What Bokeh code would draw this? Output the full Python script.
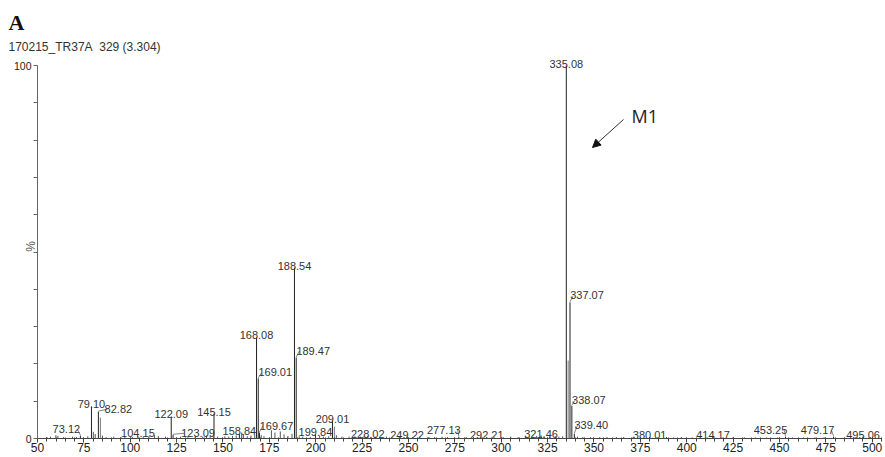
import math
from bokeh.plotting import figure
from bokeh.models import (Range1d, FixedTicker, Label, Arrow, NormalHead,
                          LinearAxis, Title)
from bokeh.core.properties import value
from bokeh.embed import file_html
from bokeh.resources import INLINE

# ---- data ----
peak_mz = [73.12, 79.10, 82.82, 104.15, 122.09, 123.09, 145.15, 158.84,
           168.08, 169.01, 169.67, 188.54, 189.47, 199.84, 209.01, 228.02,
           249.22, 277.13, 292.21, 321.46, 335.08, 337.07, 338.07, 339.40,
           380.01, 414.17, 453.25, 479.17, 495.06]
peak_int = [0.8, 8.6, 7.2, 0.6, 5.9, 1.0, 6.7, 1.2,
            27.1, 16.1, 1.6, 45.8, 21.7, 1.0, 4.8, 0.6,
            0.5, 0.5, 0.4, 0.8, 100.0, 36.5, 8.8, 1.3,
            0.4, 0.4, 0.5, 0.5, 0.5]
# label placement relative to peak top, in pixels (dx right, dy up)
label_dx = [-14, 0, 20, 0, 0, 25, 0, 0,
            0, 17, 17, 0, 17, 0, 0, 0,
            0, -15, 0, 0, 0, 17, 17, 17,
            0, 0, -15, -16, 0]
label_dy = [7, 2, 3, 3, 2, 2, 2, 3,
            2, 6, 7, 2, 7, 3, 2, 2,
            2, 7, 2, 2, 2, 7, 6, 9,
            2, 2, 7, 7, 2]

# unlabelled peaks
other_mz = [336.07, 83.90, 210.02]
other_int = [20.9, 5.6, 3.2]

noise_mz = [55.1, 57.0, 59.9, 61.0, 64.1, 68.9, 71.0, 77.1, 80.1, 81.1, 85.0,
            87.0, 91.1, 95.0, 97.1, 101.1, 107.0, 110.1, 113.1, 115.1, 119.0,
            127.1, 131.1, 135.0, 139.1, 141.1, 143.1, 147.1, 151.0, 153.1,
            155.1, 157.1, 160.1, 161.0, 163.1, 165.1, 167.1, 170.6, 172.1,
            176.1, 178.0, 180.9, 182.9, 185.0, 187.2, 191.1, 193.0, 197.1,
            202.1, 204.1, 207.0, 211.1, 214.1, 218.0, 221.1, 224.1, 226.0,
            232.1, 235.0, 238.1, 241.1, 245.0, 252.1, 256.1, 261.0, 264.1,
            268.1, 271.0, 281.1, 285.0, 289.1, 296.1, 301.0, 305.1, 309.1,
            313.0, 317.1, 319.1, 323.1, 326.0, 329.1, 331.1, 333.1, 341.1,
            344.0, 348.1, 353.1, 357.0, 362.1, 366.0, 371.1, 375.1, 384.0,
            389.1, 393.0, 397.1, 403.0, 407.1, 411.0, 419.1, 425.0, 431.1,
            437.0, 443.1, 449.0, 457.1, 463.0, 469.1, 474.0, 485.1, 491.0,
            499.1]
noise_int = [0.4, 0.5, 0.9, 0.7, 0.4, 0.5, 0.4, 0.6, 1.8, 1.2, 0.8,
             0.4, 0.5, 0.4, 0.5, 0.4, 0.5, 0.6, 0.9, 0.7, 0.5,
             0.5, 0.6, 0.5, 0.5, 0.8, 0.6, 0.5, 0.6, 0.5,
             0.7, 0.8, 1.6, 1.2, 0.6, 0.8, 1.0, 0.9, 0.6,
             2.2, 1.6, 1.9, 1.1, 0.7, 1.3, 0.6, 0.5, 0.4,
             0.8, 0.5, 0.6, 0.9, 0.5, 0.5, 0.6, 0.5, 0.6,
             0.5, 0.4, 0.5, 0.4, 0.4, 0.4, 0.5, 0.4, 0.4,
             0.5, 0.4, 0.4, 0.4, 0.5, 0.4, 0.4, 0.5, 0.4,
             0.5, 0.5, 0.7, 0.6, 0.5, 0.6, 0.5, 0.6, 0.5,
             0.4, 0.4, 0.4, 0.4, 0.4, 0.4, 0.4, 0.4, 0.4,
             0.4, 0.3, 0.4, 0.3, 0.3, 0.3, 0.3, 0.4, 0.3,
             0.3, 0.3, 0.3, 0.3, 0.3, 0.3, 0.3, 0.3, 0.3,
             0.4]

x_ticks = list(range(50, 501, 25))
y_ticks = list(range(0, 101, 10))

title_text = "A"
subtitle_text = "170215_TR37A\u00a0 329 (3.304)"
y_label = "%"
annot_text = "M1"

# ---- layout ----
X0, X1 = 50, 505
FW, FH = 844, 384
PX_PER_PCT = 3.73
Y1 = FH / PX_PER_PCT
px_x = FW / (X1 - X0)
px_y = FH / Y1
FS = 11  # label font size

p = figure(frame_width=FW, frame_height=FH, x_range=Range1d(X0, X1),
           y_range=Range1d(0, Y1), output_backend="svg", toolbar_location=None,
           min_border_left=37, min_border_right=3, min_border_top=54,
           min_border_bottom=18, x_axis_type=None, y_axis_type=None)
p.outline_line_color = None
p.xgrid.visible = False
p.ygrid.visible = False
p.background_fill_color = "white"

# titles (outer: "A", inner: run info)
p.title.text = title_text
p.title.align = "left"
p.title.offset = -29
p.title.text_font = "Liberation Serif"
p.title.text_font_style = "bold"
p.title.text_font_size = "22px"
p.title.text_color = "#111"
p.title.standoff = 6
sub = Title(text=subtitle_text, align="left", offset=-29,
            text_font="Liberation Sans", text_font_style="normal",
            text_font_size="12px", text_color="#333", standoff=1)
p.add_layout(sub, "above")

xa = LinearAxis(ticker=FixedTicker(ticks=x_ticks,
                                   minor_ticks=list(range(50, 506, 5))))
xa.axis_line_color = "#444"
xa.major_tick_line_color = "#444"
xa.minor_tick_line_color = "#444"
xa.major_tick_out = 4
xa.major_tick_in = 1
xa.minor_tick_out = 3
xa.minor_tick_in = 1
xa.major_label_standoff = 0
xa.major_label_text_font = "Liberation Sans"
xa.major_label_text_font_size = "12px"
xa.major_label_text_color = "#222"
p.add_layout(xa, "below")

ya = LinearAxis(ticker=FixedTicker(ticks=y_ticks), bounds=(0, 100))
ya.major_label_overrides = {t: "" for t in y_ticks if t not in (0, 100)}
ya.axis_line_color = "#666"
ya.major_tick_line_color = "#666"
ya.major_tick_out = 4
ya.major_tick_in = 0
ya.minor_tick_line_color = None
ya.major_label_standoff = 2
ya.major_label_text_font = "Liberation Sans"
ya.major_label_text_font_size = "10.5px"
ya.major_label_text_color = "#222"
ya.axis_label = y_label
ya.axis_label_standoff = -27
ya.axis_label_text_font = "Liberation Sans"
ya.axis_label_text_font_style = "normal"
ya.axis_label_text_font_size = "12px"
ya.axis_label_text_color = "#555"
p.add_layout(ya, "left")

# bars
p.segment(x0=noise_mz, y0=[0]*len(noise_mz), x1=noise_mz, y1=noise_int,
          line_color="#555", line_width=1)
p.segment(x0=other_mz, y0=[0]*len(other_mz), x1=other_mz, y1=other_int,
          line_color="#777", line_width=1)
p.segment(x0=peak_mz, y0=[0]*len(peak_mz), x1=peak_mz, y1=peak_int,
          line_color="#222", line_width=1)

# labels and leader lines
lx, ly, txt = [], [], []
sx0, sy0, sx1, sy1 = [], [], [], []
for mz, h, dx, dy in zip(peak_mz, peak_int, label_dx, label_dy):
    s = f"{mz:.2f}"
    w = sum(0.278 if c == "." else 0.556 for c in s) * FS
    cx = mz + dx / px_x
    by = h + dy / px_y
    lx.append(cx)
    ly.append(by)
    txt.append(s)
    if abs(dx) > 5:
        sgn = 1 if dx > 0 else -1
        ex = cx - sgn * (w / 2 - 3) / px_x
        sx0.append(mz)
        sy0.append(h + 0.5 / px_y)
        sx1.append(ex)
        sy1.append(by - 0.5 / px_y)

p.segment(x0=sx0, y0=sy0, x1=sx1, y1=sy1, line_color="#666", line_width=0.8)
p.text(x=lx, y=ly, text=txt, text_align="center", text_baseline="alphabetic",
       text_font=value("Liberation Sans"), text_font_size=f"{FS}px",
       text_color="#333")

# annotation in screen units (relative to frame)
p.add_layout(Label(x=594, y=323, x_units="screen", y_units="screen",
                   text=annot_text, text_font="Open Sans",
                   text_font_size="18px", text_color="#222",
                   text_baseline="alphabetic"))
p.add_layout(Arrow(x_start=586, y_start=319, x_end=555, y_end=291,
                   start_units="screen", end_units="screen",
                   line_color="#333", line_width=1,
                   end=NormalHead(size=8, fill_color="#111",
                                  line_color="#111")))

open("out.html", "w").write(file_html(p, INLINE))
